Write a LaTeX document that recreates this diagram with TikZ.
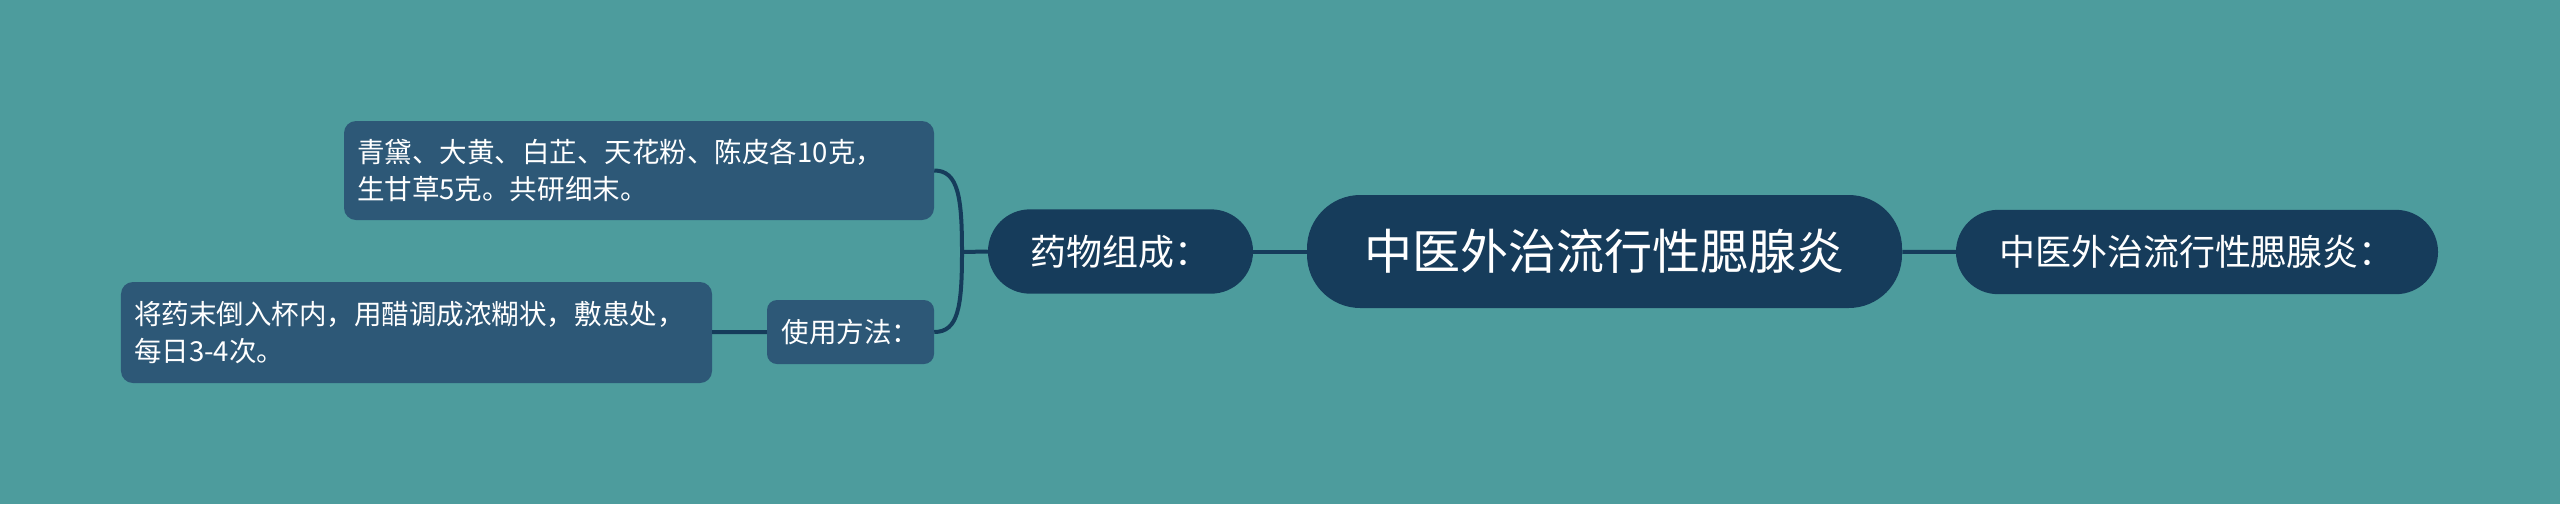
\documentclass[tikz,border=0pt]{standalone}
\usepackage{fontspec}
\setmainfont{Noto Sans CJK SC}
\usetikzlibrary{positioning}
\definecolor{bgteal}{HTML}{4D9C9D}
\definecolor{nodenavy}{HTML}{163C5B}
\definecolor{leafblue}{HTML}{2D5877}
\tikzset{
    rootnode/.style={fill=nodenavy, text=white, rounded corners=16mm, minimum width=178.5mm, minimum height=33.9mm, inner sep=0pt, font=\fontsize{41}{48}\selectfont},
    topic/.style={fill=nodenavy, text=white, rounded corners=12.6mm, minimum height=25.3mm, inner sep=0pt, font=\fontsize{30.7}{36}\selectfont},
    leaf/.style={fill=leafblue, text=white, rounded corners=3.6mm, align=left, inner xsep=3.9mm, inner ysep=0pt, font=\fontsize{23.5}{31.6}\selectfont},
    link/.style={draw=nodenavy, line width=1.2mm}
}
\begin{document}
\begin{tikzpicture}[x=0.3mm, y=-0.3mm]
    \fill[bgteal] (0,0) rectangle (2560,504);
    \useasboundingbox (0,0) rectangle (2560,504);
    % connectors
    \coordinate (fork) at (962,252);
    \node[rootnode] (root) at (1604.5,251.5) {中医外治流行性腮腺炎};
    \node[topic, minimum width=144.6mm] (title) at (2197,252) {中医外治流行性腮腺炎：};
    \node[topic, minimum width=79.5mm] (drugs) at (1120.5,251.5) {药物组成：};
    \node[leaf, align=center, inner xsep=0pt, rounded corners=3mm, minimum width=50.1mm, minimum height=19.2mm] (method) at (850.5,332) {使用方法：};
    \node[leaf, text width=169.2mm, minimum height=29.7mm] (recipe) at (639,170.5) {青黛、大黄、白芷、天花粉、陈皮各10克，\\生甘草5克。共研细末。};
    \node[leaf, text width=169.5mm, minimum height=30.3mm] (usage) at (416.5,332.5) {将药末倒入杯内，用醋调成浓糊状，敷患处，\\每日3-4次。};
    \draw[link] (root) -- (title);
    \draw[link] (drugs) -- (root);
    \draw[link] (drugs.west) -- (fork);
    \draw[link] (recipe.east) .. controls +(24,0) and +(0,-55) .. (fork) .. controls +(0,55) and +(24,0) .. (method.east);
    \draw[link] (usage) -- (method);
\end{tikzpicture}
\end{document}
